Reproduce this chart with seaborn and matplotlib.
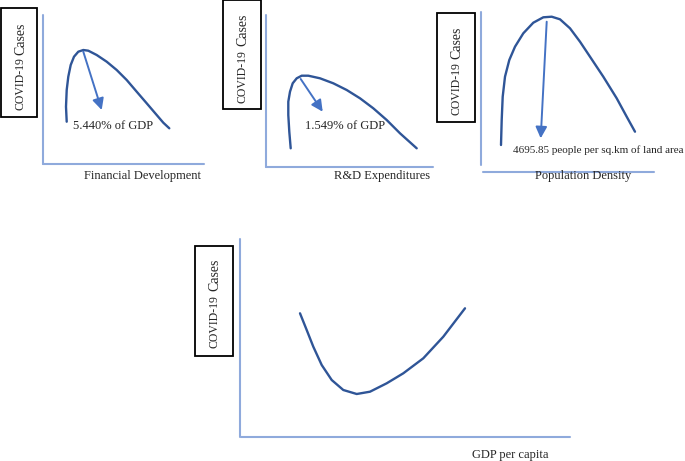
import pandas as pd
import seaborn as sns
import matplotlib.pyplot as plt
from matplotlib.patches import Rectangle

# Curve points (pixel space of the 685x461 image)
fin_x = [66.7, 66.0, 66.7, 68.3, 70.7, 74.0, 78.3, 83.3, 88.3, 96.7, 106.7, 116.7, 126.7, 136.7, 146.7, 156.7, 163.3, 169.3]
fin_y = [121.7, 106.7, 90.0, 76.7, 65.0, 56.7, 51.7, 50.0, 50.7, 55.0, 61.7, 70.0, 80.0, 91.7, 103.3, 115.0, 122.7, 128.3]

rd_x = [290.7, 289.3, 288.3, 288.3, 290.0, 292.7, 296.7, 301.7, 308.3, 320.0, 333.3, 346.7, 360.0, 373.3, 386.7, 400.0, 416.7]
rd_y = [148.3, 131.7, 115.0, 101.7, 91.7, 83.3, 78.3, 75.7, 75.7, 78.3, 83.3, 90.0, 98.3, 108.3, 120.0, 133.3, 148.3]

pop_x = [501.0, 501.7, 502.7, 505.0, 509.3, 515.0, 523.3, 533.3, 543.3, 551.7, 560.0, 570.0, 580.0, 590.0, 603.3, 616.7, 626.7, 635.0]
pop_y = [145.0, 120.0, 96.7, 76.7, 60.0, 46.7, 33.3, 22.7, 17.3, 16.7, 19.3, 28.3, 41.7, 56.7, 76.7, 98.3, 116.7, 131.7]

gdp_x = [300.0, 306.7, 313.3, 321.7, 331.7, 343.3, 356.7, 370.0, 386.7, 403.3, 423.3, 443.3, 465.0]
gdp_y = [313.3, 330.0, 346.7, 365.0, 380.0, 390.0, 394.0, 391.7, 383.3, 373.3, 358.3, 336.7, 308.3]

x_labels = ['Financial Development', 'R&D Expenditures', 'Population Density', 'GDP per capita']
peak_labels = ['5.440% of GDP', '1.549% of GDP', '4695.85 people per sq.km of land area']

# layout (pixels)
label_pos = [(143, 176), (382, 176), (583, 176), (510, 455)]
boxes = [(1, 8, 36, 109), (223, 0, 38, 109), (437, 13, 38, 109), (195, 246, 38, 110)]
covid_pos = [(21, 110), (243, 103), (457, 115), (215, 348)]
cases_pos = [(21, 55), (243, 46), (457, 59), (215, 291)]
vlines = [(43, 15, 164), (266, 15, 167), (481, 12, 165), (240, 239, 437)]
hlines = [(164, 43, 204), (167, 266, 433), (172, 483, 654), (437, 241, 570)]
arrows = [((83.3, 51.7), (101.7, 110)), ((300.7, 79), (322.7, 111.7)), ((546.7, 21.7), (540.7, 138.3))]
peak_pos = [(73, 126), (305, 126), (513, 150)]
peak_size = [9, 9, 8]

sns.set_theme(style='white')
plt.rcParams['font.family'] = ['Liberation Serif', 'DejaVu Serif']

curve_col = '#2F5597'
axis_col = '#8FAADC'
arrow_col = '#4472C4'

fig = plt.figure(figsize=(6.85, 4.61), dpi=100)
ax = fig.add_axes([0, 0, 1, 1])

for cx, cy in [(fin_x, fin_y), (rd_x, rd_y), (pop_x, pop_y), (gdp_x, gdp_y)]:
    df = pd.DataFrame({'x': cx, 'y': cy})
    sns.lineplot(data=df, x='x', y='y', sort=False, estimator=None, color=curve_col, lw=1.7, ax=ax)

for x, y0, y1 in vlines:
    ax.plot([x, x], [y0, y1], color=axis_col, lw=1.5)
for y, x0, x1 in hlines:
    ax.plot([x0, x1], [y, y], color=axis_col, lw=1.5)

# y-axis label boxes: "COVID-19" a bit smaller than "Cases"
for (x, y, w, h) in boxes:
    ax.add_patch(Rectangle((x, y), w, h, fill=False, ec='black', lw=1.3))
for (x, y) in covid_pos:
    ax.text(x, y, 'COVID-19', rotation=90, ha='center', va='bottom', fontsize=8.5)
for (x, y) in cases_pos:
    ax.text(x, y, 'Cases', rotation=90, ha='center', va='bottom', fontsize=10)

for lab, (x, y) in zip(x_labels, label_pos):
    ax.text(x, y, lab, ha='center', va='center', fontsize=9)

for (start, tip) in arrows:
    ax.annotate('', xy=tip, xytext=start,
                arrowprops=dict(arrowstyle='-|>', color=arrow_col, lw=1.4,
                                mutation_scale=17, shrinkA=0, shrinkB=0))
for lab, (x, y), fs in zip(peak_labels, peak_pos, peak_size):
    ax.text(x, y, lab, ha='left', va='center', fontsize=fs)

ax.set_xlim(0, 685)
ax.set_ylim(461, 0)
ax.axis('off')
plt.savefig('out.png', dpi=100)
